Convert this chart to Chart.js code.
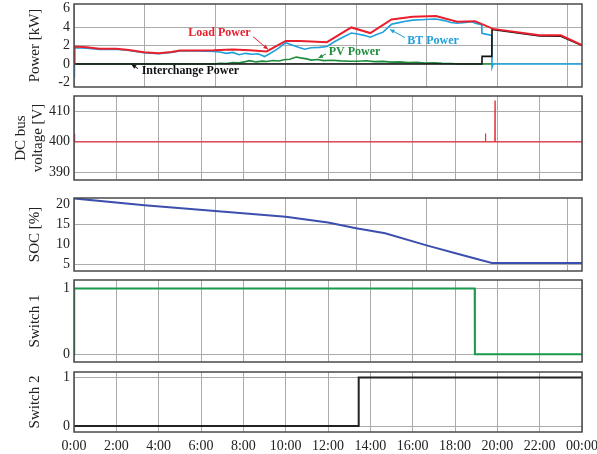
<!DOCTYPE html>
<html><head><meta charset="utf-8">
<script src="https://cdn.jsdelivr.net/npm/chart.js@4.4.1/dist/chart.umd.min.js"></script>
<style>
html,body{margin:0;padding:0;background:#fff;}
#wrap{position:relative;width:597px;height:454px;overflow:hidden;background:#fff;}
canvas{position:absolute;left:0;}
</style></head><body>
<div id="wrap">
<canvas id="c1" width="597" height="89" style="top:1px;width:597px;height:89px"></canvas>
<canvas id="c2" width="597" height="90" style="top:93px;width:597px;height:90px"></canvas>
<canvas id="c3" width="597" height="79" style="top:195px;width:597px;height:79px"></canvas>
<canvas id="c4" width="597" height="88" style="top:277px;width:597px;height:88px"></canvas>
<canvas id="c5" width="597" height="85" style="top:369px;width:597px;height:85px"></canvas>
</div>
<script>
// ---------- DATA (hours of day) ----------
const loadT = [0, 0.02, 0.6, 1.2, 2.0, 2.6, 3.3, 4.0, 4.6, 5.0, 5.8, 6.6, 7.5, 8.3, 9.1, 10.0, 10.7, 11.95, 13.1, 14.0, 15.0, 16.0, 17.1, 18.1, 18.95, 19.8, 22.0, 23.0, 24];
const loadP = [0, 1.9, 1.8, 1.66, 1.64, 1.5, 1.27, 1.15, 1.3, 1.45, 1.46, 1.48, 1.57, 1.48, 1.36, 2.5, 2.5, 2.36, 3.96, 3.35, 4.82, 5.13, 5.2, 4.58, 4.64, 3.8, 3.1, 3.1, 2.05];

const btT = [0, 0.02, 0.6, 1.2, 2.0, 2.6, 3.3, 4.0, 4.6, 5.0, 5.8, 6.6, 6.9, 7.2, 7.5, 7.8, 8.1, 8.4, 8.7, 9.0, 9.2, 9.6, 10.0, 10.3, 10.6, 10.9, 11.2, 11.6, 11.95, 12.3, 12.7, 13.1, 13.4, 13.7, 14.0, 14.3, 14.6, 15.0, 15.3, 15.6, 16.0, 16.4, 16.8, 17.1, 17.5, 17.8, 18.1, 18.5, 18.8, 19.0, 19.26, 19.27, 19.74, 19.75, 19.8, 24];
const btP = [-1.4, 1.75, 1.7, 1.58, 1.6, 1.45, 1.22, 1.1, 1.25, 1.4, 1.4, 1.35, 1.3, 1.15, 1.25, 1.0, 1.15, 1.05, 1.1, 0.8, 1.05, 1.6, 2.3, 2.05, 1.8, 1.6, 1.75, 1.8, 1.9, 2.4, 2.9, 3.35, 3.25, 3.1, 2.9, 3.2, 3.45, 4.3, 4.45, 4.6, 4.75, 4.8, 4.85, 4.88, 4.7, 4.5, 4.42, 4.5, 4.57, 4.4, 4.25, 3.33, 3.1, -0.35, 0, 0];

const pvT = [0, 6.6, 6.9, 7.2, 7.5, 7.8, 8.1, 8.3, 8.6, 8.9, 9.1, 9.4, 9.7, 9.9, 10.2, 10.5, 10.7, 11.0, 11.2, 11.5, 11.8, 12.2, 12.6, 13.0, 13.4, 13.8, 14.2, 14.6, 15.0, 15.4, 15.8, 16.2, 16.6, 17.0, 17.4, 17.8, 18.2, 19.8];
const pvP = [0, 0, 0.08, 0.05, 0.15, 0.12, 0.25, 0.36, 0.22, 0.3, 0.27, 0.38, 0.32, 0.45, 0.5, 0.75, 0.66, 0.55, 0.42, 0.48, 0.36, 0.4, 0.33, 0.3, 0.29, 0.35, 0.25, 0.28, 0.2, 0.22, 0.15, 0.18, 0.11, 0.12, 0.06, 0.05, 0, 0];

const gridT = [0, 19.27, 19.28, 19.74, 19.75, 22.0, 23.0, 24];
const gridP = [0, 0, 0.82, 0.82, 3.75, 3.03, 3.0, 2.0];

const dcT = [0, 0.03, 19.43, 19.44, 19.45, 19.88, 19.89, 19.9, 24];
const dcV = [402.6, 400, 400, 402.7, 400, 400, 413.5, 400, 400];

const socT = [0, 3.33, 6.67, 10.0, 12.0, 13.33, 14.7, 16.7, 18.2, 19.74, 24];
const socV = [21.6, 19.85, 18.4, 17.0, 15.5, 14.1, 12.8, 9.7, 7.5, 5.3, 5.3];

const sw1T = [0, 0.01, 18.93, 18.94, 24];
const sw1V = [0, 1, 1, 0, 0];

const sw2T = [0, 13.44, 13.45, 24];
const sw2V = [0, 0, 1, 1];

const powerTicks = [-2, 0, 2, 4, 6];
const dcTicks = [390, 400, 410];
const socTicks = [5, 10, 15, 20];
const swTicks = [0, 1];
const coarseGridHours = [0, 3.3333, 6.6667, 10, 13.3333, 16.6667, 20, 23.3333];
const hourTicks = [0, 2, 4, 6, 8, 10, 12, 14, 16, 18, 20, 22, 24];
const hourLabels = ['0:00','2:00','4:00','6:00','8:00','10:00','12:00','14:00','16:00','18:00','20:00','22:00','00:00'];

// ---------- helpers ----------
const SERIF = '"Liberation Serif", "Times New Roman", serif';
const GRID = '#ababab';
const NONE = 'rgba(0,0,0,0)';
const pts = (t, v) => t.map((x, i) => ({x: x, y: v[i]}));
const hideGridAt = vals => ctx => (ctx.tick && vals.indexOf(ctx.tick.value) >= 0) ? NONE : GRID;

const framePlugin = {
  id: 'frame',
  afterDraw(chart) {
    const a = chart.chartArea, c = chart.ctx;
    c.save();
    c.strokeStyle = '#4a4a4a';
    c.lineWidth = 1.5;
    c.strokeRect(a.left, a.top, a.right - a.left, a.bottom - a.top);
    c.restore();
  }
};

function zeroPad(s) { s.paddingTop = 0; s.paddingBottom = 0; s.paddingLeft = 0; s.paddingRight = 0; }

function line(data, color, width, order) {
  return {data: data, borderColor: color, borderWidth: width, pointRadius: 0, tension: 0, fill: false, order: order};
}

function yScale(min, max, ticks, title, pad, opts) {
  opts = opts || {};
  return {
    type: 'linear', min: min, max: max,
    afterFit(s) { s.width = 74; zeroPad(s); },
    afterBuildTicks(s) { s.ticks = ticks.map(v => ({value: v})); },
    ticks: {font: {family: SERIF, size: 14}, color: '#222', padding: 4, autoSkip: false},
    grid: {color: opts.gridColor || GRID, drawTicks: false, lineWidth: 1},
    border: {display: false},
    title: {display: true, text: title, color: '#222',
      font: {family: SERIF, size: 15, lineHeight: 1.13}, padding: {top: pad, bottom: 0}}
  };
}

function xScale(ticks, labels, height) {
  return {
    type: 'linear', min: 0, max: 24,
    afterFit(s) { s.height = height; zeroPad(s); },
    afterBuildTicks(s) { s.ticks = ticks.map(v => ({value: v})); },
    ticks: {display: !!labels, autoSkip: false, maxRotation: 0, minRotation: 0, padding: 6,
      font: {family: SERIF, size: 14}, color: '#222',
      callback: (v, i) => labels ? labels[i] : ''},
    grid: {color: GRID, drawTicks: false, lineWidth: 1},
    border: {display: false}
  };
}

function makeChart(id, datasets, xs, ys, pad, extraPlugins) {
  return new Chart(document.getElementById(id), {
    type: 'line',
    data: {datasets: datasets},
    options: {
      responsive: false, animation: false, devicePixelRatio: 1,
      parsing: false, normalized: true,
      layout: {padding: {left: 0, right: 15, top: pad[0], bottom: pad[1]}},
      plugins: {legend: {display: false}, tooltip: {enabled: false}},
      scales: {x: xs, y: ys}
    },
    plugins: [framePlugin].concat(extraPlugins || [])
  });
}

// Annotations for the power panel (data coordinates)
const notes = [
  {text: 'Load Power', x: 6.87, y: 3.35, color: '#e8202e', tail: [8.46, 2.95], tip: [9.16, 1.6]},
  {text: 'BT Power', x: 16.96, y: 2.45, color: '#1ea0dc', tail: [15.64, 2.86], tip: [14.93, 3.73]},
  {text: 'PV Power', x: 13.25, y: 1.3, color: '#1e8c3c', tail: [11.9, 1.09], tip: [11.55, 0.64]},
  {text: 'Interchange Power', x: 5.5, y: -0.8, color: '#111', tail: [3.02, -0.5], tip: [2.72, -0.07]}
];
const notePlugin = {
  id: 'notes',
  afterDatasetsDraw(chart) {
    const c = chart.ctx, xs = chart.scales.x, ys = chart.scales.y;
    c.save();
    notes.forEach(n => {
      c.font = 'bold 12px ' + SERIF;
      c.fillStyle = n.color; c.strokeStyle = n.color;
      c.textAlign = 'center'; c.textBaseline = 'middle';
      c.fillText(n.text, xs.getPixelForValue(n.x), ys.getPixelForValue(n.y));
      const x0 = xs.getPixelForValue(n.tail[0]), y0 = ys.getPixelForValue(n.tail[1]);
      const x1 = xs.getPixelForValue(n.tip[0]), y1 = ys.getPixelForValue(n.tip[1]);
      c.lineWidth = 1;
      c.beginPath(); c.moveTo(x0, y0); c.lineTo(x1, y1); c.stroke();
      const ang = Math.atan2(y1 - y0, x1 - x0), L = 5;
      c.beginPath();
      c.moveTo(x1, y1);
      c.lineTo(x1 - L * Math.cos(ang - 0.45), y1 - L * Math.sin(ang - 0.45));
      c.lineTo(x1 - L * Math.cos(ang + 0.45), y1 - L * Math.sin(ang + 0.45));
      c.closePath(); c.fill();
    });
    c.restore();
  }
};

// Panel 1: power
makeChart('c1', [
  line(pts(loadT, loadP), '#e8202e', 2, 0),
  line(pts(btT, btP), '#1ea0dc', 1.6, 2),
  line(pts(pvT, pvP), '#1e8c3c', 1.6, 3),
  line(pts(gridT, gridP), '#111111', 1.6, 1)
], xScale(coarseGridHours, null, 0),
   yScale(-2.5, 6.5, powerTicks, 'Power [kW]', 26.5, {gridColor: hideGridAt([6, -2])}), [3, 3], [notePlugin]);

// Panel 2: DC bus voltage
makeChart('c2', [line(pts(dcT, dcV), '#e83040', 1.2, 0)],
  xScale(hourTicks, null, 0), yScale(387.5, 415, dcTicks, ['DC bus', 'voltage [V]'], 12.5), [3, 3]);

// Panel 3: SOC
makeChart('c3', [line(pts(socT, socV), '#3d4fae', 2, 0)],
  xScale(coarseGridHours, null, 0),
  yScale(3.3, 21.7, socTicks, 'SOC [%]', 26.5, {gridColor: hideGridAt([10, 20])}),
  [3, 3]);

// Panel 4: Switch 1
makeChart('c4', [line(pts(sw1T, sw1V), '#1a9a4a', 2, 0)],
  xScale(hourTicks, null, 0), yScale(-0.12, 1.13, swTicks, 'Switch 1', 26.5), [3, 3]);

// Panel 5: Switch 2
makeChart('c5', [line(pts(sw2T, sw2V), '#222222', 2, 0)],
  xScale(hourTicks, hourLabels, 22), yScale(-0.124, 1.116, swTicks, 'Switch 2', 26.5), [3, 0]);
</script>
</body></html>
